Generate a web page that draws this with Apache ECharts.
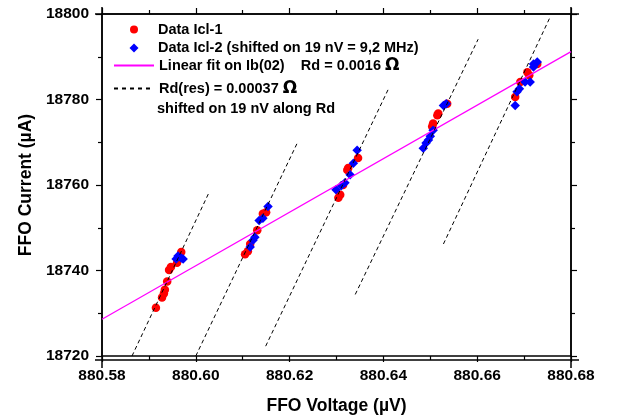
<!DOCTYPE html>
<html><head><meta charset="utf-8">
<script src="https://cdn.jsdelivr.net/npm/echarts@6/dist/echarts.min.js"></script>
<style>html,body{margin:0;padding:0;background:#fff}#c{width:624px;height:420px}</style>
</head><body><div id="c"></div>
<script>
// Data Icl-1 (red circles)
const icl1V = [880.5915,880.5928,880.5932,880.5934,880.5939,880.5943,880.5947,880.5960,880.5969,
  880.6105,880.6111,880.6116,880.6131,880.6143,880.6150,
  880.6304,880.6308,880.6314,880.6323,880.6325,880.6346,
  880.6504,880.6506,880.6515,880.6517,880.6536,
  880.6681,880.6692,880.6707,880.6711,880.6728];
const icl1I = [18731.3,18733.7,18734.6,18735.5,18737.4,18740.1,18740.8,18741.8,18744.3,
  18743.8,18744.5,18746.2,18749.4,18753.3,18753.6,
  18757.0,18757.7,18760.0,18763.5,18764.0,18766.3,
  18773.7,18774.4,18776.3,18776.7,18779.0,
  18780.6,18784.1,18786.4,18785.7,18788.3];
// Data Icl-2 (blue diamonds)
const icl2V = [880.5958,880.5962,880.5969,880.5973,
  880.6116,880.6122,880.6126,880.6135,880.6143,880.6154,
  880.6299,880.6310,880.6318,880.6329,880.6336,880.6344,
  880.6485,880.6491,880.6496,880.6500,880.6506,880.6528,880.6534,
  880.6681,880.6685,880.6690,880.6702,880.6713,880.6720,880.6728,880.6720];
const icl2I = [18742.7,18743.4,18742.9,18742.7,
  18745.5,18747.1,18747.8,18751.7,18752.2,18755.0,
  18758.9,18759.8,18760.5,18762.4,18765.1,18768.1,
  18768.6,18769.8,18770.5,18771.4,18772.8,18778.6,18779.0,
  18778.6,18781.8,18782.5,18784.1,18784.1,18787.6,18788.8,18788.3];
// Linear fit endpoints
const fitV = [880.58, 880.68];
const fitI = [18728.6, 18791.2];
// Rd(res) dashed segments: start/end voltage and current
const resV0 = [880.5864, 880.6000, 880.6149, 880.6340, 880.6528];
const resI0 = [18720.0, 18720.0, 18722.3, 18734.4, 18746.2];
const resV1 = [880.6028, 880.6218, 880.6410, 880.6602, 880.6756];
const resI1 = [18758.2, 18770.2, 18782.3, 18794.1, 18799.4];
// Axis ticks
const xTicks = [880.58, 880.60, 880.62, 880.64, 880.66, 880.68];
const yTicks = [18720, 18740, 18760, 18780, 18800];

const nameA = 'Data Icl-1';
const nameB = 'Data Icl-2 (shifted on 19 nV = 9,2 MHz)';
const nameC = 'Linear fit on Ib(02)    Rd = 0.0016 Ω';
const nameD = 'Rd(res) = 0.00037 Ω';
const note = 'shifted on 19 nV along Rd';

const FF = 'Liberation Sans, Arial, sans-serif';
const G = {left: 102, right: 53, top: 14, bottom: 60};
const W = 624, H = 420;

const chart = echarts.init(document.getElementById('c'), null, {renderer: 'canvas'});

const series = [
  {name: nameA, type: 'scatter', symbol: 'circle', symbolSize: 8.5,
   itemStyle: {color: '#ff0000', opacity: 1}, data: icl1V.map((v, i) => [v, icl1I[i]])},
  {name: nameB, type: 'scatter', symbol: 'diamond', symbolSize: 9.5,
   itemStyle: {color: '#0000ff', opacity: 1}, data: icl2V.map((v, i) => [v, icl2I[i]])},
  {name: nameC, type: 'line', symbol: 'none', lineStyle: {color: '#ff00ff', width: 1.2},
   itemStyle: {color: '#ff00ff'}, data: fitV.map((v, i) => [v, fitI[i]])}
];
resV0.forEach((v, k) => {
  series.push({name: nameD, type: 'line', symbol: 'none',
    lineStyle: {color: '#000', width: 1, type: [4, 3]}, itemStyle: {color: '#000'},
    data: [[v, resI0[k]], [resV1[k], resI1[k]]]});
});

function richName(n) {
  return n.replace('Ω', '{o|Ω}');
}
function legTxt(padL) {
  return {fontFamily: FF, fontWeight: 'bold', fontSize: 14.5, color: '#000', padding: [0, 0, 0, padL],
    rich: {o: {fontFamily: 'DejaVu Sans, sans-serif', fontWeight: 'bold', fontSize: 17, color: '#000'}}};
}
function leg(item, left, top, w, h, padL, dash) {
  const o = {data: [item], left: left, top: top, orient: 'vertical', itemWidth: w, itemHeight: h,
    itemGap: 0, padding: 0, textStyle: legTxt(padL), formatter: richName, selectedMode: false};
  if (dash) o.lineStyle = {type: dash};
  return o;
}

const axisLine = {lineStyle: {color: '#000', width: 1.5}};
const yFmt = v => String(v);
chart.setOption({
  animation: false,
  backgroundColor: '#fff',
  grid: {left: G.left, right: G.right, top: G.top, bottom: G.bottom},
  legend: [
    leg({name: nameA, icon: 'circle'}, 130, 22, 8, 8, 15),
    leg({name: nameB, icon: 'diamond'}, 129.5, 40.5, 9, 9, 14.5),
    leg({name: nameC, itemStyle: {opacity: 0}}, 113, 57, 40, 10, 0),
    leg({name: nameD, itemStyle: {opacity: 0}}, 113, 80, 40, 12, 0, [4, 4])
  ],
  xAxis: [
    {type: 'value', min: xTicks[0], max: xTicks[xTicks.length - 1], interval: 0.02,
     position: 'bottom',
     name: 'FFO Voltage (µV)', nameLocation: 'middle', nameGap: 41,
     nameTextStyle: {fontFamily: FF, fontWeight: 'bold', fontSize: 17.5, color: '#000'},
     axisLine: axisLine, splitLine: {show: false},
     axisTick: {show: true, length: 6, inside: false, lineStyle: {color: '#000', width: 1.2}},
     minorTick: {show: true, splitNumber: 2, length: 4, lineStyle: {color: '#000', width: 1.2}},
     axisLabel: {fontFamily: FF, fontWeight: 'bold', fontSize: 15.5, color: '#000', margin: 12,
       formatter: v => v.toFixed(2)}},
    {type: 'value', min: xTicks[0], max: xTicks[xTicks.length - 1], interval: 0.02,
     position: 'top', axisLine: axisLine, splitLine: {show: false},
     axisTick: {show: true, length: 6, lineStyle: {color: '#000', width: 1.2}},
     minorTick: {show: true, splitNumber: 2, length: 4, lineStyle: {color: '#000', width: 1.2}},
     axisLabel: {show: false}}
  ],
  yAxis: [
    {type: 'value', min: yTicks[0], max: yTicks[yTicks.length - 1], interval: 20,
     position: 'left',
     name: 'FFO Current (µA)', nameLocation: 'middle', nameGap: 64,
     nameTextStyle: {fontFamily: FF, fontWeight: 'bold', fontSize: 17.5, color: '#000'},
     axisLine: axisLine, splitLine: {show: false},
     axisTick: {show: true, length: 6, lineStyle: {color: '#000', width: 1.2}},
     minorTick: {show: true, splitNumber: 2, length: 4, lineStyle: {color: '#000', width: 1.2}},
     axisLabel: {fontFamily: FF, fontWeight: 'bold', fontSize: 15.5, color: '#000', margin: 13,
       formatter: yFmt}},
    {type: 'value', min: yTicks[0], max: yTicks[yTicks.length - 1], interval: 20,
     position: 'right', axisLine: axisLine, splitLine: {show: false},
     axisTick: {show: true, length: 6, lineStyle: {color: '#000', width: 1.2}},
     minorTick: {show: true, splitNumber: 2, length: 4, lineStyle: {color: '#000', width: 1.2}},
     axisLabel: {show: false}}
  ],
  graphic: [
    {type: 'text', left: 157, top: 101,
     style: {text: note, fontFamily: FF, fontWeight: 'bold', fontSize: 14.5, fill: '#000'}},
    // axis line overshoot
    {type: 'line', shape: {x1: G.left - 7, y1: H - G.bottom, x2: W - G.right + 8, y2: H - G.bottom}, style: {stroke: '#000', lineWidth: 1.5}},
    {type: 'line', shape: {x1: G.left - 7, y1: G.top, x2: W - G.right + 8, y2: G.top}, style: {stroke: '#000', lineWidth: 1.5}},
    {type: 'line', shape: {x1: G.left, y1: G.top - 7, x2: G.left, y2: H - G.bottom + 8}, style: {stroke: '#000', lineWidth: 1.5}},
    {type: 'line', shape: {x1: W - G.right, y1: G.top - 7, x2: W - G.right, y2: H - G.bottom + 8}, style: {stroke: '#000', lineWidth: 1.5}}
  ],
  series: series
});
</script></body></html>
